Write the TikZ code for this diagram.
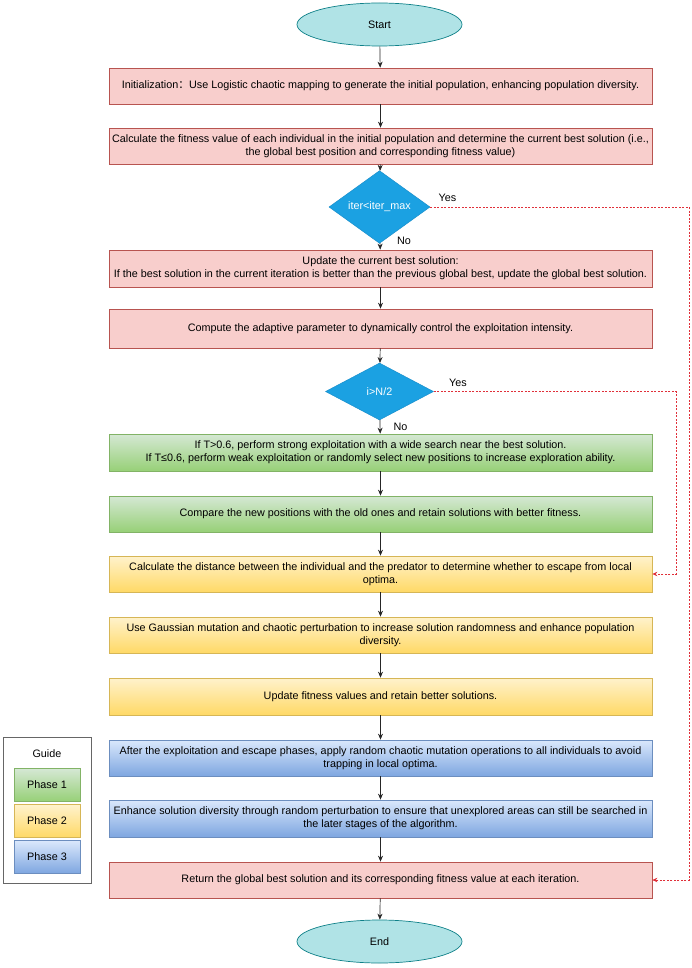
\documentclass[tikz,border=0pt]{standalone}
\usepackage{fontspec}
\setmainfont{Liberation Sans}
\newfontfamily\cjkfont{Noto Sans CJK SC}
\usetikzlibrary{shapes.geometric,arrows.meta}
\definecolor{pinkF}{HTML}{F8CECC}
\definecolor{pinkS}{HTML}{B85450}
\definecolor{greenT}{HTML}{D5E8D4}
\definecolor{greenB}{HTML}{97D077}
\definecolor{greenS}{HTML}{82B366}
\definecolor{yelT}{HTML}{FFF2CC}
\definecolor{yelB}{HTML}{FFD966}
\definecolor{yelS}{HTML}{D6B656}
\definecolor{bluT}{HTML}{DAE8FC}
\definecolor{bluB}{HTML}{7EA6E0}
\definecolor{bluS}{HTML}{6C8EBF}
\definecolor{termF}{HTML}{B0E3E6}
\definecolor{termS}{HTML}{0E8088}
\definecolor{decF}{HTML}{1BA1E2}
\definecolor{decS}{HTML}{1A8FCC}
\definecolor{loopC}{HTML}{E0303A}
\definecolor{guideS}{HTML}{666666}
\begin{document}
\begin{tikzpicture}[x=1pt,y=-1pt,
  font=\fontsize{10.8}{13}\selectfont,
  box/.style={rectangle, minimum width=543pt, minimum height=36pt, inner xsep=0pt, inner ysep=2pt, align=center, line width=0.7pt},
  pinkbox/.style={box, fill=pinkF, draw=pinkS},
  greenbox/.style={box, top color=greenT, bottom color=greenB, draw=greenS},
  yelbox/.style={box, top color=yelT, bottom color=yelB, draw=yelS},
  blubox/.style={box, top color=bluT, bottom color=bluB, draw=bluS},
  term/.style={ellipse, minimum width=165pt, minimum height=43pt, inner sep=0pt, fill=termF, draw=termS, line width=0.7pt},
  decision/.style={diamond, fill=decF, draw=decS, text=white, inner sep=0pt, line width=0.5pt},
  flow/.style={draw=black!85, line width=0.7pt, -{Stealth[length=6pt,width=5pt]}},
  loopline/.style={draw=loopC, line width=0.8pt, dash pattern=on 2pt off 1.5pt, -{Stealth[length=5pt,width=4.5pt]}},
  lab/.style={inner sep=0pt},
  phase/.style={rectangle, minimum width=66pt, minimum height=33pt, inner sep=0pt, line width=0.6pt}
]
\useasboundingbox (0,0) rectangle (692,968);

\node[term] (start) at (379.5,24.5) {Start};
\node[pinkbox] (init) at (380.5,86) {Initialization{\cjkfont ：}Use Logistic chaotic mapping to generate the initial population, enhancing population diversity.};
\node[pinkbox] (calc) at (380.5,146) {Calculate the fitness value of each individual in the initial population and determine the current best solution (i.e.,\\the global best position and corresponding fitness value)};
\node[decision, minimum width=101pt, minimum height=58pt] (d1) at (379.5,207) {iter<iter\_max};
\node[pinkbox, minimum height=37pt] (upd) at (380.5,268.5) {Update the current best solution:\\If the best solution in the current iteration is better than the previous global best, update the global best solution.};
\node[pinkbox, minimum height=39pt] (comp) at (380.5,328.5) {Compute the adaptive parameter to dynamically control the exploitation intensity.};
\node[decision, minimum width=108pt, minimum height=57pt] (d2) at (379.5,391.5) {i>N/2};
\node[greenbox, minimum height=37pt] (g1) at (380.5,452.5) {If T>0.6, perform strong exploitation with a wide search near the best solution.\\If T≤0.6, perform weak exploitation or randomly select new positions to increase exploration ability.};
\node[greenbox] (g2) at (380.5,514) {Compare the new positions with the old ones and retain solutions with better fitness.};
\node[yelbox] (y1) at (380.5,574) {Calculate the distance between the individual and the predator to determine whether to escape from local\\optima.};
\node[yelbox] (y2) at (380.5,635) {Use Gaussian mutation and chaotic perturbation to increase solution randomness and enhance population\\diversity.};
\node[yelbox, minimum height=37pt] (y3) at (380.5,696.5) {Update fitness values and retain better solutions.};
\node[blubox] (b1) at (380.5,758) {After the exploitation and escape phases, apply random chaotic mutation operations to all individuals to avoid\\trapping in local optima.};
\node[blubox, minimum height=37pt] (b2) at (380.5,818.5) {Enhance solution diversity through random perturbation to ensure that unexplored areas can still be searched in\\the later stages of the algorithm.};
\node[pinkbox] (ret) at (380.5,880) {Return the global best solution and its corresponding fitness value at each iteration.};
\node[term] (end) at (379.5,941.5) {End};

\draw[flow] (start) -- (init);
\draw[flow] (init) -- (calc);
\draw[flow] (calc) -- (d1);
\draw[flow] (d1) -- (upd);
\draw[flow] (upd) -- (comp);
\draw[flow] (comp) -- (d2);
\draw[flow] (d2) -- (g1);
\draw[flow] (g1) -- (g2);
\draw[flow] (g2) -- (y1);
\draw[flow] (y1) -- (y2);
\draw[flow] (y2) -- (y3);
\draw[flow] (y3) -- (b1);
\draw[flow] (b1) -- (b2);
\draw[flow] (b2) -- (ret);
\draw[flow] (ret) -- (end);

\coordinate (c1) at (689,0);
\coordinate (c2) at (676,0);
\draw[loopline] (d1.east) -- (d1.east -| c1) |- (ret.east);
\draw[loopline] (d2.east) -- (d2.east -| c2) |- (y1.east);

\node[lab] (yes1) at (447.5,198) {Yes};
\node[lab] (no1) at (404,241) {No};
\node[lab] (yes2) at (458,383) {Yes};
\node[lab] (no2) at (400.5,427) {No};

\node[rectangle, draw=guideS, fill=white, line width=0.7pt, minimum width=88pt, minimum height=146pt] (guide) at (47,810) {};
\node[lab] (guidet) at (47,754) {Guide};
\node[phase, top color=greenT, bottom color=greenB, draw=greenS] (p1) at (47,785) {Phase 1};
\node[phase, top color=yelT, bottom color=yelB, draw=yelS] (p2) at (47,821) {Phase 2};
\node[phase, top color=bluT, bottom color=bluB, draw=bluS] (p3) at (47,857) {Phase 3};
\end{tikzpicture}
\end{document}
